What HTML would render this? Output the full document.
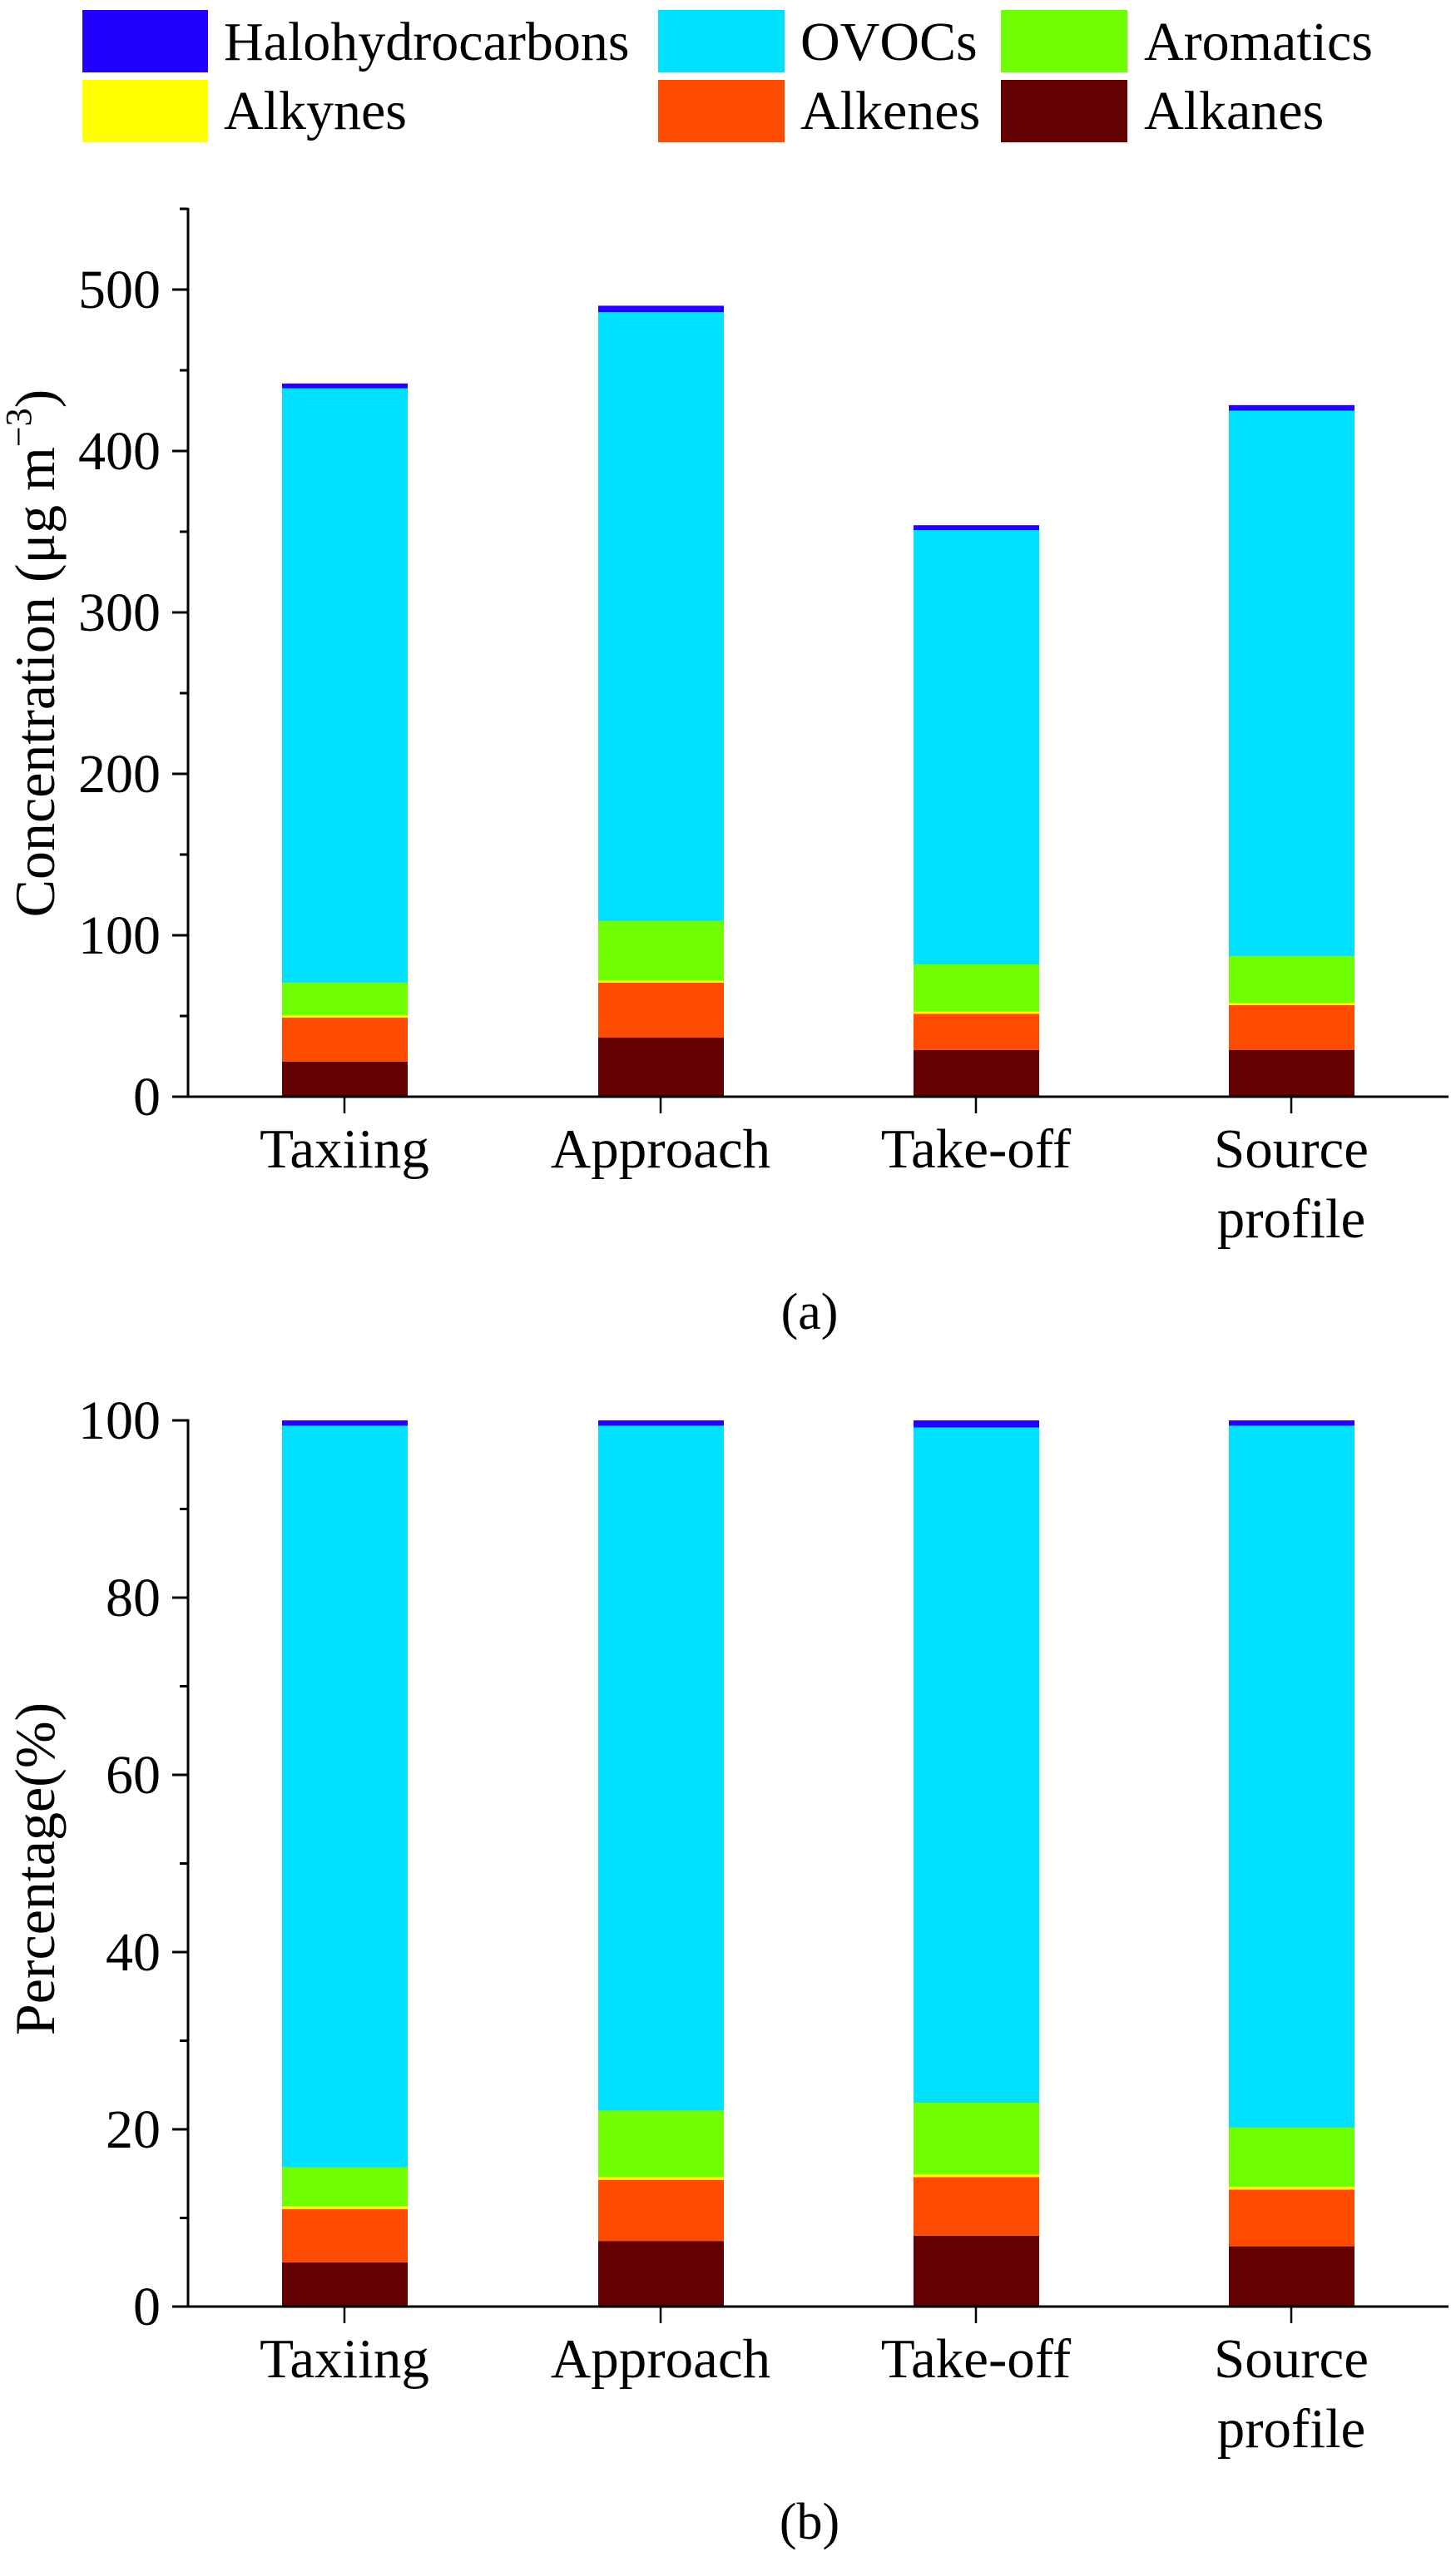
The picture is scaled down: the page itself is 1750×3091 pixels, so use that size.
<!DOCTYPE html>
<html><head><meta charset="utf-8"><style>html,body{margin:0;padding:0;background:#fff}svg{display:block}text{font-family:"Liberation Serif",serif;fill:#000}</style></head>
<body>
<svg width="1750" height="3091" viewBox="0 0 1750 3091" xmlns="http://www.w3.org/2000/svg">
<!-- Legend -->
<g font-size="66">
<rect x="99" y="12" width="151" height="75" fill="#2200ff"/><text x="269" y="72">Halohydrocarbons</text>
<rect x="791" y="12" width="152" height="75" fill="#00e0ff"/><text x="962" y="72">OVOCs</text>
<rect x="1203" y="12" width="152" height="75" fill="#6fff00"/><text x="1375" y="72">Aromatics</text>
<rect x="99" y="96" width="151" height="75" fill="#ffff00"/><text x="269" y="155">Alkynes</text>
<rect x="791" y="96" width="152" height="75" fill="#ff4b00"/><text x="962" y="155">Alkenes</text>
<rect x="1203" y="96" width="152" height="75" fill="#640000"/><text x="1375" y="155">Alkanes</text>
</g>

<!-- Panel a bars -->
<g>
<rect x="339" y="1275.7" width="151" height="42.3" fill="#640000"/>
<rect x="339" y="1222.9" width="151" height="52.8" fill="#ff4b00"/>
<rect x="339" y="1220.4" width="151" height="2.5" fill="#ffff00"/>
<rect x="339" y="1181.2" width="151" height="39.2" fill="#6fff00"/>
<rect x="339" y="466.7" width="151" height="714.5" fill="#00e0ff"/>
<rect x="339" y="460.9" width="151" height="5.8" fill="#2200ff"/>

<rect x="719" y="1247" width="151" height="71" fill="#640000"/>
<rect x="719" y="1181" width="151" height="66" fill="#ff4b00"/>
<rect x="719" y="1178.7" width="151" height="2.3" fill="#ffff00"/>
<rect x="719" y="1106.9" width="151" height="71.8" fill="#6fff00"/>
<rect x="719" y="375.2" width="151" height="731.7" fill="#00e0ff"/>
<rect x="719" y="367.4" width="151" height="7.8" fill="#2200ff"/>

<rect x="1098" y="1261.9" width="151" height="56.1" fill="#640000"/>
<rect x="1098" y="1218.3" width="151" height="43.6" fill="#ff4b00"/>
<rect x="1098" y="1215.8" width="151" height="2.5" fill="#ffff00"/>
<rect x="1098" y="1159.1" width="151" height="56.7" fill="#6fff00"/>
<rect x="1098" y="637.1" width="151" height="522" fill="#00e0ff"/>
<rect x="1098" y="631.2" width="151" height="5.9" fill="#2200ff"/>

<rect x="1477" y="1261.7" width="151" height="56.3" fill="#640000"/>
<rect x="1477" y="1208" width="151" height="53.7" fill="#ff4b00"/>
<rect x="1477" y="1205.5" width="151" height="2.5" fill="#ffff00"/>
<rect x="1477" y="1149.2" width="151" height="56.3" fill="#6fff00"/>
<rect x="1477" y="493.5" width="151" height="655.7" fill="#00e0ff"/>
<rect x="1477" y="486.9" width="151" height="6.6" fill="#2200ff"/>
</g>

<!-- Panel a axes -->
<g stroke="#000" stroke-width="3" fill="none">
<line x1="226" y1="250" x2="226" y2="1319.5"/>
<line x1="207" y1="1318" x2="1741" y2="1318"/>
<line x1="207" y1="1124" x2="226" y2="1124"/>
<line x1="207" y1="930" x2="226" y2="930"/>
<line x1="207" y1="736" x2="226" y2="736"/>
<line x1="207" y1="542" x2="226" y2="542"/>
<line x1="207" y1="348" x2="226" y2="348"/>
<line x1="216" y1="1221" x2="226" y2="1221"/>
<line x1="216" y1="1027" x2="226" y2="1027"/>
<line x1="216" y1="833" x2="226" y2="833"/>
<line x1="216" y1="639" x2="226" y2="639"/>
<line x1="216" y1="445" x2="226" y2="445"/>
<line x1="216" y1="251" x2="226" y2="251"/>
<line x1="414" y1="1318" x2="414" y2="1338" stroke-width="2.5"/>
<line x1="794" y1="1318" x2="794" y2="1338" stroke-width="2.5"/>
<line x1="1173" y1="1318" x2="1173" y2="1338" stroke-width="2.5"/>
<line x1="1552" y1="1318" x2="1552" y2="1338" stroke-width="2.5"/>
</g>
<g font-size="66" text-anchor="end">
<text x="193" y="1340">0</text>
<text x="193" y="1146">100</text>
<text x="193" y="952">200</text>
<text x="193" y="758">300</text>
<text x="193" y="564">400</text>
<text x="193" y="370">500</text>
</g>
<g font-size="67" text-anchor="middle">
<text x="414" y="1403">Taxiing</text>
<text x="794" y="1403">Approach</text>
<text x="1173" y="1403">Take-off</text>
<text x="1552" y="1403">Source</text>
<text x="1552" y="1487">profile</text>
<text x="973" y="1597" font-size="62">(a)</text>
</g>
<text transform="translate(65,785) rotate(-90)" font-size="68" text-anchor="middle">Concentration (μg m<tspan dy="-28" font-size="44">−3</tspan><tspan dy="28">)</tspan></text>

<!-- Panel b bars -->
<g>
<rect x="339" y="2718.8" width="151" height="53.2" fill="#640000"/>
<rect x="339" y="2654.9" width="151" height="63.9" fill="#ff4b00"/>
<rect x="339" y="2651.7" width="151" height="3.2" fill="#ffff00"/>
<rect x="339" y="2604.8" width="151" height="46.9" fill="#6fff00"/>
<rect x="339" y="1713.4" width="151" height="891.4" fill="#00e0ff"/>
<rect x="339" y="1707" width="151" height="6.4" fill="#2200ff"/>

<rect x="719" y="2693.2" width="151" height="78.8" fill="#640000"/>
<rect x="719" y="2619.7" width="151" height="73.5" fill="#ff4b00"/>
<rect x="719" y="2616.5" width="151" height="3.2" fill="#ffff00"/>
<rect x="719" y="2536.6" width="151" height="79.9" fill="#6fff00"/>
<rect x="719" y="1713.4" width="151" height="823.2" fill="#00e0ff"/>
<rect x="719" y="1707" width="151" height="6.4" fill="#2200ff"/>

<rect x="1098" y="2686.8" width="151" height="85.2" fill="#640000"/>
<rect x="1098" y="2616.5" width="151" height="70.3" fill="#ff4b00"/>
<rect x="1098" y="2613.3" width="151" height="3.2" fill="#ffff00"/>
<rect x="1098" y="2527" width="151" height="86.3" fill="#6fff00"/>
<rect x="1098" y="1715.5" width="151" height="811.5" fill="#00e0ff"/>
<rect x="1098" y="1707" width="151" height="8.5" fill="#2200ff"/>

<rect x="1477" y="2699.6" width="151" height="72.4" fill="#640000"/>
<rect x="1477" y="2631.4" width="151" height="68.2" fill="#ff4b00"/>
<rect x="1477" y="2628.2" width="151" height="3.2" fill="#ffff00"/>
<rect x="1477" y="2556.9" width="151" height="71.3" fill="#6fff00"/>
<rect x="1477" y="1713.4" width="151" height="843.5" fill="#00e0ff"/>
<rect x="1477" y="1707" width="151" height="6.4" fill="#2200ff"/>
</g>

<!-- Panel b axes -->
<g stroke="#000" stroke-width="3" fill="none">
<line x1="226" y1="1705.5" x2="226" y2="2773.5"/>
<line x1="207" y1="2772" x2="1741" y2="2772"/>
<line x1="207" y1="2559" x2="226" y2="2559"/>
<line x1="207" y1="2346" x2="226" y2="2346"/>
<line x1="207" y1="2133" x2="226" y2="2133"/>
<line x1="207" y1="1920" x2="226" y2="1920"/>
<line x1="207" y1="1707" x2="226" y2="1707"/>
<line x1="216" y1="2665.5" x2="226" y2="2665.5"/>
<line x1="216" y1="2452.5" x2="226" y2="2452.5"/>
<line x1="216" y1="2239.5" x2="226" y2="2239.5"/>
<line x1="216" y1="2026.5" x2="226" y2="2026.5"/>
<line x1="216" y1="1813.5" x2="226" y2="1813.5"/>
<line x1="414" y1="2772" x2="414" y2="2792" stroke-width="2.5"/>
<line x1="794" y1="2772" x2="794" y2="2792" stroke-width="2.5"/>
<line x1="1173" y1="2772" x2="1173" y2="2792" stroke-width="2.5"/>
<line x1="1552" y1="2772" x2="1552" y2="2792" stroke-width="2.5"/>
</g>
<g font-size="66" text-anchor="end">
<text x="193" y="2794">0</text>
<text x="193" y="2581">20</text>
<text x="193" y="2368">40</text>
<text x="193" y="2155">60</text>
<text x="193" y="1942">80</text>
<text x="193" y="1729">100</text>
</g>
<g font-size="67" text-anchor="middle">
<text x="414" y="2857">Taxiing</text>
<text x="794" y="2857">Approach</text>
<text x="1173" y="2857">Take-off</text>
<text x="1552" y="2857">Source</text>
<text x="1552" y="2941">profile</text>
<text x="973" y="3051" font-size="62">(b)</text>
</g>
<text transform="translate(65,2246) rotate(-90)" font-size="68" text-anchor="middle">Percentage(%)</text>
</svg>
</body></html>
